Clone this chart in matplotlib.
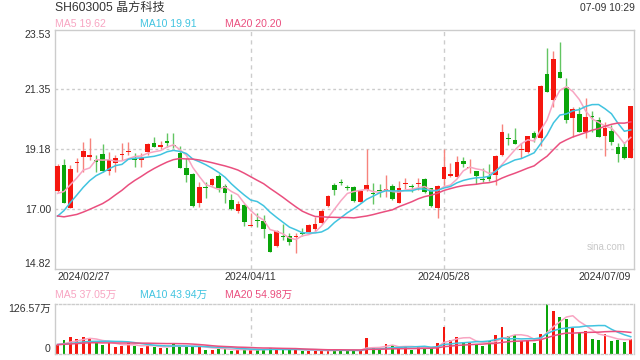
# candlestick chart with MA lines and volume panel
import numpy as np
import pandas as pd
import matplotlib
matplotlib.use('Agg')
import matplotlib.pyplot as plt

plt.rcParams['font.family'] = ['Liberation Sans', 'Noto Sans CJK SC']

# daily prices, 2024/02/27 .. 2024/07/09
opens = [17.66, 18.60, 17.05, 18.68, 18.91, 18.91, 18.78, 19.00, 18.40, 18.66,
         18.95, 19.08, 18.85, 18.78, 19.09, 19.39, 19.25, 19.48, 19.33, 19.03,
         18.48, 18.28, 17.23, 17.81, 17.875, 18.20, 17.84, 17.33, 16.94, 17.15,
         16.40, 16.60, 16.58, 16.09, 15.67, 16.02, 16.02, 15.97, 16.14, 16.18,
         16.28, 16.48, 17.11, 17.88, 18.00, 17.81, 17.81, 17.27, 17.69, 17.60,
         17.69, 17.67, 17.84, 17.23, 17.91, 17.84, 17.91, 18.08, 17.755, 17.05,
         18.08, 18.21, 18.18, 18.75, 18.48, 18.38, 18.08, 18.22, 18.24, 18.97,
         19.57, 19.50, 19.15, 19.06, 19.78, 19.60, 21.90, 20.97, 21.97, 21.45,
         20.30, 20.46, 19.815, 20.38, 20.24, 19.67, 19.84, 19.26, 19.26, 18.87]
highs = [18.63, 18.81, 18.60, 18.85, 19.43, 19.59, 18.97, 19.37, 19.09, 18.97,
         19.39, 19.43, 19.05, 19.03, 19.40, 19.61, 19.48, 19.75, 19.75, 19.29,
         18.85, 18.30, 18.00, 18.00, 18.12, 18.26, 17.90, 17.54, 17.29, 17.18,
         16.84, 16.84, 16.78, 16.12, 16.24, 16.46, 16.14, 16.12, 16.30, 16.44,
         16.70, 16.99, 17.52, 17.96, 18.09, 17.875, 17.84, 17.69, 19.18, 17.94,
         17.91, 18.24, 17.91, 18.03, 18.14, 17.90, 18.14, 18.12, 17.78, 17.875,
         19.18, 18.66, 18.93, 18.88, 18.82, 18.38, 18.48, 18.64, 18.97, 20.08,
         19.75, 19.96, 19.39, 19.67, 19.84, 21.51, 22.87, 22.75, 23.06, 21.78,
         20.72, 20.72, 21.05, 20.57, 20.36, 20.18, 20.06, 19.39, 19.43, 20.75]
lows = [17.63, 17.21, 17.03, 18.36, 18.36, 18.78, 18.36, 18.36, 18.24, 18.36,
        18.78, 18.97, 18.54, 18.54, 18.97, 19.25, 19.17, 19.25, 19.21, 18.48,
        18.00, 17.09, 17.09, 17.39, 17.85, 17.63, 17.23, 16.97, 16.87, 16.38,
        16.40, 16.36, 15.94, 15.43, 15.63, 15.88, 15.69, 15.41, 16.02, 16.18,
        16.20, 16.46, 17.09, 17.51, 17.875, 17.69, 17.26, 17.26, 17.67, 17.18,
        17.45, 17.45, 17.33, 17.21, 17.72, 17.63, 17.69, 17.57, 17.09, 16.69,
        17.875, 18.18, 18.18, 18.54, 18.32, 17.91, 18.00, 18.02, 17.875, 18.94,
        19.33, 19.38, 18.85, 19.03, 19.45, 19.31, 21.27, 20.72, 21.75, 20.12,
        19.63, 19.79, 19.57, 19.815, 19.63, 18.94, 19.33, 18.70, 18.82, 18.85]
closes = [18.57, 17.23, 18.45, 18.72, 19.11, 18.97, 18.72, 18.38, 18.78, 18.87,
          19.01, 19.12, 18.78, 18.87, 19.38, 19.27, 19.33, 19.42, 19.28, 18.51,
          18.24, 17.12, 17.81, 17.78, 18.08, 17.78, 17.57, 16.99, 17.18, 16.54,
          16.43, 16.57, 16.28, 15.45, 16.20, 15.99, 15.81, 16.02, 16.11, 16.42,
          16.46, 16.94, 17.47, 17.69, 17.96, 17.78, 17.29, 17.67, 17.875, 17.56,
          17.66, 17.72, 17.37, 17.75, 17.96, 17.80, 17.96, 17.63, 17.11, 17.84,
          18.52, 18.26, 18.70, 18.63, 18.52, 18.20, 18.05, 18.08, 18.94, 19.82,
          19.53, 19.38, 19.20, 19.66, 19.60, 21.49, 21.27, 22.46, 21.78, 20.24,
          20.64, 19.815, 20.36, 20.33, 19.63, 19.96, 19.45, 19.02, 18.85, 20.75]
# volumes in 万
volumes = [23.2, 36.2, 42.2, 38.7, 43.9, 38.7, 27.6, 23.2, 27.6, 18.9,
           21.5, 27.6, 21.5, 14.6, 23.2, 18.9, 16.4, 16.4, 25.8, 20.7,
           18.9, 18.9, 18.9, 11.2, 11.2, 12.9, 12.9, 8.6, 10.3, 11.2,
           9.5, 12.1, 12.9, 14.6, 12.1, 11.2, 11.2, 11.2, 8.6, 8.6,
           8.6, 8.6, 8.6, 10.3, 10.3, 7.7, 10.3, 7.7, 40.5, 14.6,
           10.3, 25.0, 23.2, 18.9, 18.9, 10.3, 18.9, 16.4, 16.4, 27.6,
           68.9, 36.2, 43.1, 30.1, 30.1, 25.8, 21.5, 31.9, 49.1, 68.9,
           45.0, 49.0, 33.0, 35.0, 27.0, 51.0, 126.57, 110.0, 95.0, 88.5,
           67.0, 54.0, 58.5, 39.0, 35.7, 49.7, 32.5, 34.5, 30.5, 38.0]

# sessions before 02/27, only feed the moving averages
prior_closes = [17.9, 17.6, 17.8, 17.4, 17.0, 16.6, 16.3, 15.9, 15.4, 15.7,
                15.2, 15.5, 16.0, 16.3, 16.55, 16.9, 17.2, 17.5, 17.68]
prior_volumes = [20, 24, 22, 19, 21, 26, 30, 28, 25, 22,
                 27, 24, 21, 23, 26, 25, 22, 24, 26]

date_pos = [0, 30, 60, 89]
date_labels = ['2024/02/27', '2024/04/11', '2024/05/28', '2024/07/09']
price_ticks = [14.82, 17.00, 19.18, 21.35, 23.53]
vol_ticks = [0, 126.57]

RED = '#f5170f'
GREEN = '#0aa50a'
RED_W = '#f7837c'
GREEN_W = '#62c562'
MA_COL = {5: '#f8a5c2', 10: '#41c4e0', 20: '#ea4f7f'}
GRID = '#cccccc'
TXT = '#333333'

o = np.array(opens); h = np.array(highs); l = np.array(lows); c = np.array(closes)
v = np.array(volumes)
x = np.arange(len(c))
up = c >= o
body_col = np.where(up, RED, GREEN)
wick_col = np.where(up, RED_W, GREEN_W)

n_prior = len(prior_closes)
close_all = pd.Series(prior_closes + closes)
vol_all = pd.Series(prior_volumes + volumes)

W, H = 640, 360
fig = plt.figure(figsize=(6.4, 3.6), dpi=100)


def fx(px):
    return px / W


def fy(py):
    return 1 - py / H


ax = fig.add_axes([fx(55), fy(269), (634 - 55) / W, (269 - 29.5) / H])
axv = fig.add_axes([fx(55), fy(354), (634 - 55) / W, (354 - 304.3) / H])

# price panel
ax.vlines(x, l, h, colors=wick_col, lw=1, zorder=2)
ax.bar(x, np.maximum(np.abs(c - o), 0.035), bottom=np.minimum(o, c), width=0.72,
       color=body_col, zorder=3)
for n in (5, 10, 20):
    ma = close_all.rolling(n).mean().values[n_prior:]
    ax.plot(x, ma, color=MA_COL[n], lw=1.1, zorder=4)

ax.set_xlim(-0.39, 89.5)
ax.set_ylim(price_ticks[0], price_ticks[-1])
for t in price_ticks[1:-1]:
    ax.axhline(t, color=GRID, lw=1, ls=(0, (2, 2)), zorder=1)
for p in date_pos[1:-1]:
    ax.axvline(p, color=GRID, lw=1, ls=(0, (3, 3)), zorder=1)
    axv.axvline(p, color=GRID, lw=1, ls=(0, (3, 3)), zorder=1)

ax.set_yticks(price_ticks, ['%.2f' % t for t in price_ticks])
ylabs = ax.get_yticklabels()
ylabs[0].set_va('bottom')
ylabs[-1].set_va('top')
ax.set_xticks(date_pos, date_labels)
xlabs = ax.get_xticklabels()
xlabs[0].set_ha('left')
xlabs[-1].set_ha('right')
ax.tick_params(length=0, labelsize=7.6, labelcolor=TXT)
ax.tick_params(axis='y', pad=3)
ax.tick_params(axis='x', pad=2.5)
for s in ax.spines.values():
    s.set_color(GRID)
    s.set_linewidth(1)

# volume panel
axv.bar(x, v, width=0.45, color=body_col, zorder=2)
for n in (5, 10, 20):
    ma = vol_all.rolling(n).mean().values[n_prior:]
    axv.plot(x, ma, color=MA_COL[n], lw=1.1, zorder=3)
axv.set_xlim(ax.get_xlim())
axv.set_ylim(vol_ticks[0], vol_ticks[-1])
axv.set_xticks([])
axv.set_yticks(vol_ticks, ['0', '126.57万'])
vlabs = axv.get_yticklabels()
vlabs[0].set_va('bottom')
vlabs[-1].set_va('top')
axv.tick_params(length=0, labelsize=7.6, labelcolor=TXT, pad=3)
for s in axv.spines.values():
    s.set_color(GRID)
    s.set_linewidth(1)
axv.spines['top'].set_linestyle((0, (1.5, 1.5)))
axv.spines['bottom'].set_linestyle((0, (1.5, 1.5)))

# header texts
fig.text(fx(55), fy(8), 'SH603005 晶方科技', fontsize=8.7, color=TXT, va='center')
fig.text(fx(635), fy(8), '07-09 10:29', fontsize=7.4, color=TXT, va='center', ha='right')
for xp, lab, n in [(55, 'MA5 19.62', 5), (140.5, 'MA10 19.91', 10), (225, 'MA20 20.20', 20)]:
    fig.text(fx(xp), fy(24), lab, fontsize=7.6, color=MA_COL[n], va='center')
for xp, lab, n in [(55, 'MA5 37.05万', 5), (140.5, 'MA10 43.94万', 10), (225, 'MA20 54.98万', 20)]:
    fig.text(fx(xp), fy(295), lab, fontsize=7.6, color=MA_COL[n], va='center')
fig.text(fx(606), fy(247), 'sina.com', fontsize=7, color='#c8c8c8', ha='center', va='center')

fig.savefig('out.png', dpi=100, facecolor='white')
